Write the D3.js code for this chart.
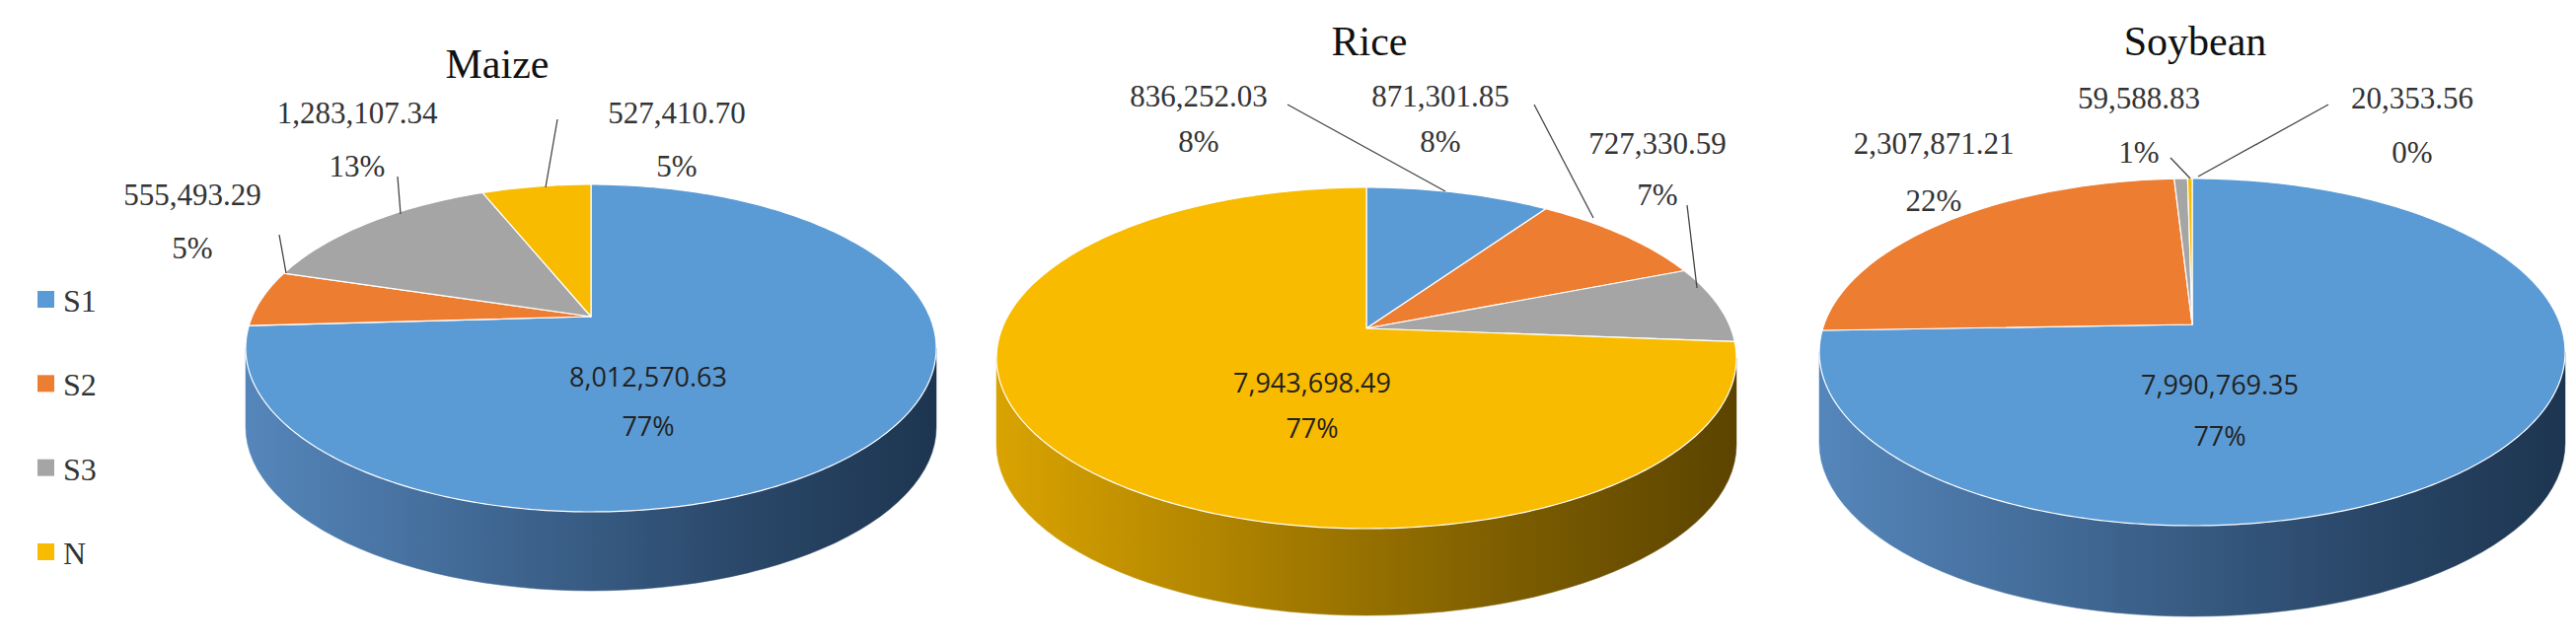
<!DOCTYPE html>
<html><head><meta charset="utf-8">
<script src="https://cdn.jsdelivr.net/npm/d3@7/dist/d3.min.js"></script>
<style>body{margin:0;background:#fff}</style></head>
<body><svg id="c" width="2611" height="653"></svg>
<script>
const categories = ["S1","S2","S3","N"];
const crops = ["Maize","Rice","Soybean"];
const maizeValues = [8012570.63, 555493.29, 1283107.34, 527410.70];
const riceValues = [836252.03, 871301.85, 727330.59, 7943698.49];
const soyValues = [7990769.35, 2307871.21, 59588.83, 20353.56];
const maizePct = ["77%","5%","13%","5%"];
const ricePct = ["8%","8%","7%","77%"];
const soyPct = ["77%","22%","1%","0%"];

const colors = d3.scaleOrdinal().domain(categories).range(["#5b9bd5","#ed7d31","#a5a5a5","#f8bb00"]);
const sideLight = {S1:"#5586bb",S2:"#d06a25",S3:"#8f8f8f",N:"#d9a300"};
const sideDark = {S1:"#1d3550",S2:"#5e2e0e",S3:"#404040",N:"#5c4400"};
const fmt = d3.format(",.2f");
const svg = d3.select("#c");
const defs = svg.append("defs");

const layout = [
  {name:"Maize", vals:maizeValues, pct:maizePct, cx:599, cy:353, rx:350, ry:166, depth:80, apexDy:-32,
   title:[504,79],
   labels:[{i:0,inside:true,x:657,y:392,dy:50},{i:1,x:195,y:208,dy:54},{i:2,x:362,y:125,dy:54},{i:3,x:686,y:125,dy:54}],
   leaders:[[[283,238],[290,277]],[[403,179],[406,217]],[[565,121],[553,190]]]},
  {name:"Rice", vals:riceValues, pct:ricePct, cx:1385, cy:363, rx:375, ry:173, depth:88, apexDy:-30,
   title:[1388,56],
   labels:[{i:0,x:1215,y:108,dy:46},{i:1,x:1460,y:108,dy:46},{i:2,x:1680,y:156,dy:52},{i:3,inside:true,x:1330,y:398,dy:46}],
   leaders:[[[1305,106],[1465,194]],[[1555,106],[1615,221]],[[1710,208],[1720,292]]]},
  {name:"Soybean", vals:soyValues, pct:soyPct, cx:2222, cy:357, rx:378, ry:176, depth:92, apexDy:-28,
   title:[2225,56],
   labels:[{i:0,inside:true,x:2250,y:400,dy:52},{i:1,x:1960,y:156,dy:58},{i:2,x:2168,y:110,dy:55},{i:3,x:2445,y:110,dy:55}],
   leaders:[[[2200,160],[2220,181]],[[2360,106],[2228,179]]]}
];

const pie = d3.pie().sort(null).value(d=>d);

layout.forEach((L,k)=>{
  const g = svg.append("g");
  const pt = (a,dy=0)=>[L.cx + L.rx*Math.sin(a), L.cy - L.ry*Math.cos(a) + dy];
  const arcs = pie(L.vals);
  // gradients
  categories.forEach(c=>{
    const gr = defs.append("linearGradient").attr("id",`g${k}${c}`).attr("gradientUnits","userSpaceOnUse")
      .attr("x1",L.cx-L.rx).attr("x2",L.cx+L.rx).attr("y1",0).attr("y2",0);
    gr.append("stop").attr("offset","0%").attr("stop-color",sideLight[c]);
    gr.append("stop").attr("offset","70%").attr("stop-color",d3.interpolateRgb(sideLight[c],sideDark[c])(0.75));
    gr.append("stop").attr("offset","100%").attr("stop-color",sideDark[c]);
  });
  // sides (front half)
  arcs.forEach((a,i)=>{
    const s = Math.max(a.startAngle, Math.PI/2), e = Math.min(a.endAngle, 3*Math.PI/2);
    if (e<=s) return;
    const n=60, top=[], bot=[];
    for(let j=0;j<=n;j++){const t=s+(e-s)*j/n; top.push(pt(t)); bot.push(pt(t,L.depth));}
    const poly = top.concat(bot.reverse());
    g.append("path").attr("d","M"+poly.map(p=>p.join(",")).join("L")+"Z")
      .attr("fill",`url(#g${k}${categories[i]})`).attr("stroke",`url(#g${k}${categories[i]})`).attr("stroke-width",0.5);
  });
  // top faces
  const apex=[L.cx, L.cy+L.apexDy];
  arcs.forEach((a,i)=>{
    const n=Math.max(2,Math.ceil((a.endAngle-a.startAngle)*60)), pts=[apex];
    for(let j=0;j<=n;j++) pts.push(pt(a.startAngle+(a.endAngle-a.startAngle)*j/n));
    g.append("path").attr("d","M"+pts.map(p=>p.join(",")).join("L")+"Z")
      .attr("fill",colors(categories[i])).attr("stroke","#fff").attr("stroke-width",1.2).attr("stroke-linejoin","round");
  });
  // title
  g.append("text").attr("x",L.title[0]).attr("y",L.title[1]).attr("text-anchor","middle")
    .attr("font-family","Liberation Serif").attr("font-size",42).attr("fill","#111").text(L.name);
  // leaders
  L.leaders.forEach(l=>g.append("line").attr("x1",l[0][0]).attr("y1",l[0][1]).attr("x2",l[1][0]).attr("y2",l[1][1])
    .attr("stroke","#444").attr("stroke-width",1.3));
  // labels
  L.labels.forEach(lb=>{
    const t = g.append("text").attr("text-anchor","middle").attr("fill", lb.inside?"#222":"#333")
      .attr("font-family", lb.inside?"Open Sans":"Liberation Serif").attr("font-size", lb.inside?27:31);
    t.append("tspan").attr("x",lb.x).attr("y",lb.y).text(fmt(L.vals[lb.i]));
    t.append("tspan").attr("x",lb.x).attr("y",lb.y+lb.dy).text(L.pct[lb.i]);
  });
});

// legend
const leg = svg.append("g");
const ly = d3.scalePoint().domain(categories).range([304,560]);
categories.forEach(c=>{
  leg.append("rect").attr("x",38).attr("y",ly(c)-9).attr("width",17).attr("height",17).attr("fill",colors(c));
  leg.append("text").attr("x",64).attr("y",ly(c)+12).attr("font-family","Liberation Serif").attr("font-size",32)
    .attr("fill","#333").text(c);
});
</script></body></html>
